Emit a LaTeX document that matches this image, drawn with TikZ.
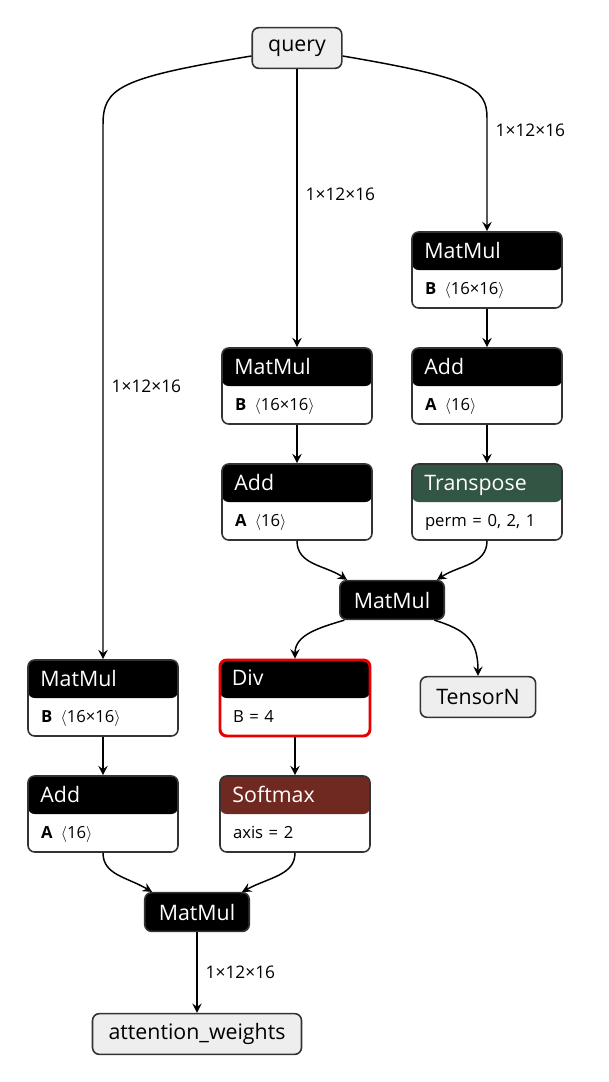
\documentclass[tikz,border=0pt]{standalone}
\usepackage{fontspec}
\setmainfont{Open Sans}
\usepackage{xcolor}
\usepackage{tikz}
\usetikzlibrary{arrows.meta,positioning,calc}
\definecolor{edgegray}{RGB}{51,51,51}
\definecolor{transform}{RGB}{51,85,68}
\definecolor{activation}{RGB}{112,41,33}
\definecolor{iofill}{RGB}{238,238,238}
\definecolor{hilite}{RGB}{230,0,0}
\tikzset{
  op/.style  ={draw=edgegray, line width=1.2pt, rounded corners=5pt, fill=white,
               minimum width=112.5pt, inner xsep=9.75pt, inner ysep=0pt, text width=93pt, align=left,
               text height=46.5pt, text depth=10.5pt, font=\fontsize{12.5}{14}\selectfont,
               path picture={\fill[#1] (path picture bounding box.north west) rectangle ([yshift=-28.5pt]path picture bounding box.north east);}},
  op/.default=black,
  ttl/.style ={anchor=base west, inner sep=0pt, text=white, font=\fontsize{16}{18}\selectfont},
  blk/.style ={draw=edgegray, line width=1.2pt, rounded corners=5pt, fill=black, text=white,
               minimum height=29pt, inner xsep=10.5pt, font=\fontsize{16}{18}\selectfont},
  io/.style  ={draw=edgegray, line width=1.2pt, rounded corners=5pt, fill=iofill,
               minimum height=30.5pt, inner xsep=12pt, font=\fontsize{16}{18}\selectfont},
  lbl/.style ={font=\fontsize{13}{15}\selectfont, inner sep=2pt},
  arr/.style ={-{Stealth[length=7pt,width=7pt,inset=2.5pt]}, line width=1.1pt},
}

\begin{document}
\begin{tikzpicture}[x=0.75pt, y=-0.75pt]
  \useasboundingbox (0,0) rectangle (608,1082);
  \node[io] (query) at (297,48) {query};
  % key branch
  \node[op] (kmm) at (487,270) {\textbf{B}~\,$\langle$16×16$\rangle$};
  \node[ttl] (kmm-t) at ([shift={(13,27)}]kmm.north west) {MatMul};
  \node[op] (kadd) at (487,386) {\textbf{A}~\,$\langle$16$\rangle$};
  \node[ttl] (kadd-t) at ([shift={(13,27)}]kadd.north west) {Add};
  \node[op=transform] (ktr) at (487,502) {perm = 0, 2, 1};
  \node[ttl] (ktr-t) at ([shift={(13,27)}]ktr.north west) {Transpose};
  % query branch
  \node[op] (qmm) at (297,386) {\textbf{B}~\,$\langle$16×16$\rangle$};
  \node[ttl] (qmm-t) at ([shift={(13,27)}]qmm.north west) {MatMul};
  \node[op] (qadd) at (297,502) {\textbf{A}~\,$\langle$16$\rangle$};
  \node[ttl] (qadd-t) at ([shift={(13,27)}]qadd.north west) {Add};
  % scores
  \node[blk] (smm) at (392,600) {MatMul};
  \node[op, draw=hilite, line width=2.2pt] (div) at (295,698) {B = 4};
  \node[ttl] (div-t) at ([shift={(13,27)}]div.north west) {Div};
  \node[op=activation] (soft) at (295,814) {axis = 2};
  \node[ttl] (soft-t) at ([shift={(13,27)}]soft.north west) {Softmax};
  \node[io] (tensn) at (478,697) {TensorN};
  % value branch
  \node[op] (vmm) at (103,698) {\textbf{B}~\,$\langle$16×16$\rangle$};
  \node[ttl] (vmm-t) at ([shift={(13,27)}]vmm.north west) {MatMul};
  \node[op] (vadd) at (103,814) {\textbf{A}~\,$\langle$16$\rangle$};
  \node[ttl] (vadd-t) at ([shift={(13,27)}]vadd.north west) {Add};
  % output
  \node[blk] (omm) at (197,912) {MatMul};
  \node[io] (attw) at (197,1034) {attention\_weights};

  \draw[arr] ([yshift=-6pt]query.west) .. controls (118,78) and (103,88) .. (103,125)
    -- node[lbl, right=4pt, pos=0.49] {1×12×16} (vmm.north);
  \draw[arr] (query) -- node[lbl, right=4pt, pos=0.45] {1×12×16} (qmm);
  \draw[arr] ([yshift=-6pt]query.east) .. controls (472,78) and (487,88) .. (487,118)
    -- node[lbl, right=4pt, pos=0.11] {1×12×16} (kmm.north);
  \draw[arr] (kmm) -- (kadd);
  \draw[arr] (kadd) -- (ktr);
  \draw[arr] (qmm) -- (qadd);
  \draw[arr] (qadd.south) .. controls (297,565) and (325,565) .. ([xshift=6pt]smm.north west);
  \draw[arr] (ktr.south) .. controls (487,565) and (459,565) .. ([xshift=-6pt]smm.north east);
  \draw[arr] ([xshift=4pt]smm.south west) .. controls (318,628) and (295,635) .. (div.north);
  \draw[arr] ([xshift=-8pt]smm.south east) .. controls (466,630) and (478,640) .. (tensn.north);
  \draw[arr] (div) -- (soft);
  \draw[arr] (vmm) -- (vadd);
  \draw[arr] (vadd.south) .. controls (103,875) and (127,877) .. ([xshift=6pt]omm.north west);
  \draw[arr] (soft.south) .. controls (295,875) and (270,877) .. ([xshift=-6pt]omm.north east);
  \draw[arr] (omm) -- node[lbl, right=4pt] {1×12×16} (attw);
\end{tikzpicture}
\end{document}
